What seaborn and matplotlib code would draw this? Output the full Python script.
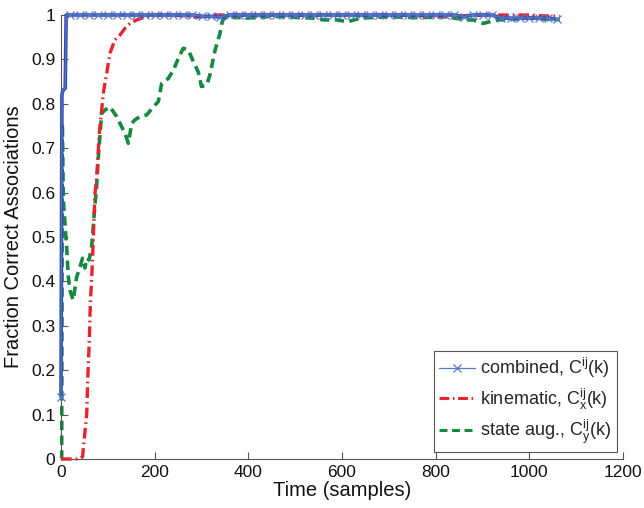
import numpy as np
import pandas as pd
import matplotlib
matplotlib.use("Agg")
import matplotlib.pyplot as plt
import seaborn as sns

# ---- data ----
comb_x = [0, 2, 4, 9, 11] + list(range(20, 1061, 20))
comb_y = ([0.14, 0.82, 0.83, 0.835, 1.0]
          + [1.0] * 14            # 20..280
          + [0.997, 0.997, 0.995]  # 300..340
          + [1.0] * 25            # 360..840
          + [0.996, 1.0, 1.0, 1.0, 0.993]   # 860..940
          + [0.993] * 5           # 960..1040
          + [0.99])               # 1060

kin_x = [0, 20, 40, 46, 55, 57, 60.5, 62, 63.4, 67, 69, 72.6, 76, 81.8, 86.8,
         90.3, 97.6, 104.6, 115, 126, 136.7, 147, 161.6, 183, 204, 240, 290,
         330, 400, 500, 600, 700, 830, 900, 1000, 1030, 1065]
kin_y = [0.0, 0.0, 0.0, 0.005, 0.103, 0.178, 0.268, 0.328, 0.366, 0.44, 0.50,
         0.598, 0.63, 0.733, 0.786, 0.824, 0.869, 0.914, 0.944, 0.955, 0.97,
         0.981, 0.989, 0.996, 1.0, 1.0, 0.995, 1.0, 1.0, 1.0, 1.0, 1.0, 0.997,
         1.0, 1.0, 0.998, 0.997]

aug_x = [0, 1.5, 2.8, 5, 8.5, 12, 15.7, 19, 26, 33.5, 40.6, 46, 51, 55, 60,
         65.5, 71, 76, 79.7, 86.8, 94, 104.6, 119, 129.6, 136.7, 143.8, 151,
         158, 168.7, 183, 197, 207.8, 215, 229, 240, 250.5, 261, 272, 282.5,
         293, 300, 311, 318, 329, 339.5, 345, 354, 397, 450, 538, 560, 589,
         612, 640, 700, 760, 820, 866, 880, 901, 932, 954, 1000, 1040, 1065]
aug_y = [0.0, 0.0, 0.756, 0.583, 0.53, 0.478, 0.41, 0.38, 0.358, 0.41, 0.433,
         0.452, 0.43, 0.452, 0.448, 0.478, 0.553, 0.613, 0.68, 0.779, 0.786,
         0.793, 0.771, 0.748, 0.734, 0.711, 0.756, 0.764, 0.771, 0.775, 0.793,
         0.805, 0.846, 0.857, 0.876, 0.902, 0.925, 0.921, 0.895, 0.872, 0.839,
         0.842, 0.865, 0.921, 0.959, 0.989, 0.996, 0.993, 0.997, 0.993, 0.989,
         0.989, 0.985, 0.993, 0.996, 0.994, 0.996, 0.989, 0.989, 0.981, 0.989,
         0.989, 0.994, 0.99, 0.99]

labels = [r"combined, $\mathrm{C^{ij}(k)}$",
          r"kinematic, $\mathrm{C^{ij}_{x}(k)}$",
          r"state aug., $\mathrm{C^{ij}_{y}(k)}$"]
x_ticks = [0, 200, 400, 600, 800, 1000, 1200]
y_ticks = [0, 0.1, 0.2, 0.3, 0.4, 0.5, 0.6, 0.7, 0.8, 0.9, 1.0]
y_ticklabels = ["0", "0.1", "0.2", "0.3", "0.4", "0.5", "0.6", "0.7", "0.8", "0.9", "1"]

# ---- style ----
sns.set_style("ticks")
plt.rcParams["font.family"] = ["Liberation Sans", "DejaVu Sans"]
plt.rcParams["mathtext.fontset"] = "custom"
plt.rcParams["mathtext.rm"] = "Liberation Sans"
plt.rcParams["mathtext.it"] = "Liberation Sans:italic"

BLUE = "#2f4aa8"
BLUE_M = "#5a78c8"
RED = "#e8232b"
GREEN = "#138a3f"
AXC = "#555555"

fig = plt.figure(figsize=(6.44, 5.08), dpi=100)
ax = fig.add_axes([61 / 644, 1 - 459 / 508, 562 / 644, 444 / 508])

df_c = pd.DataFrame({"x": comb_x, "y": comb_y})
df_k = pd.DataFrame({"x": kin_x, "y": kin_y})
df_a = pd.DataFrame({"x": aug_x, "y": aug_y})

# green state-augmented
sns.lineplot(data=df_a, x="x", y="y", ax=ax, color=GREEN, sort=False,
             estimator=None, label=labels[2])
ln_a = ax.lines[-1]
# red kinematic
sns.lineplot(data=df_k, x="x", y="y", ax=ax, color=RED, sort=False,
             estimator=None, label=labels[1])
ln_k = ax.lines[-1]
# thick combined line (no legend)
sns.lineplot(data=df_c, x="x", y="y", ax=ax, color=BLUE, sort=False,
             estimator=None, legend=False)
ln_c = ax.lines[-1]
# thin combined line with markers (legend entry)
sns.lineplot(data=df_c, x="x", y="y", ax=ax, color=BLUE_M, sort=False,
             estimator=None, label=labels[0])
ln_m = ax.lines[-1]

ln_a.set_linewidth(2.6); ln_a.set_linestyle((0, (2.6, 1.5))); ln_a.set_zorder(2)
ln_k.set_linewidth(2.4); ln_k.set_linestyle((0, (3.2, 1.2, 0.5, 1.2))); ln_k.set_zorder(3)
ln_c.set_linewidth(2.6); ln_c.set_linestyle("-"); ln_c.set_zorder(4)
ln_m.set_linewidth(0.9); ln_m.set_linestyle("-"); ln_m.set_zorder(5)
ln_m.set_marker("x"); ln_m.set_markersize(6); ln_m.set_markeredgewidth(0.9)
ln_m.set_markeredgecolor(BLUE_M)
ln_m.set_markevery([0] + list(range(5, len(comb_x))))
for ln in (ln_a, ln_k, ln_c, ln_m):
    ln.set_clip_on(False)

ax.set_xlim(0, 1200)
ax.set_ylim(0, 1)
ax.set_xticks(x_ticks)
ax.set_yticks(y_ticks)
ax.set_yticklabels(y_ticklabels)
ax.tick_params(direction="in", length=5, width=0.8, color=AXC, labelsize=12.5,
               labelcolor="#111111", pad=4)
for s in ["top", "right"]:
    ax.spines[s].set_visible(False)
for s in ["left", "bottom"]:
    ax.spines[s].set_color(AXC)
    ax.spines[s].set_linewidth(0.8)

ax.set_xlabel("Time (samples)", fontsize=14.5, labelpad=1, color="#111111")
ax.set_ylabel("Fraction Correct Associations", fontsize=14.5, labelpad=6, color="#111111")

handles = [ln_m, ln_k, ln_a]
leg = ax.legend(handles, labels, loc="lower right", bbox_to_anchor=(0.989, 0.016),
                fontsize=13, frameon=True, fancybox=False, framealpha=1,
                edgecolor=AXC, handlelength=2.0, handletextpad=0.3,
                borderpad=0.3, labelspacing=0.35, borderaxespad=0, numpoints=1)
leg.get_frame().set_linewidth(0.8)
lh = leg.get_lines()
lh[0].set_markevery([1])
lh[1].set_linewidth(2.2)
lh[2].set_linewidth(2.2)

fig.savefig("out.png", dpi=100)
